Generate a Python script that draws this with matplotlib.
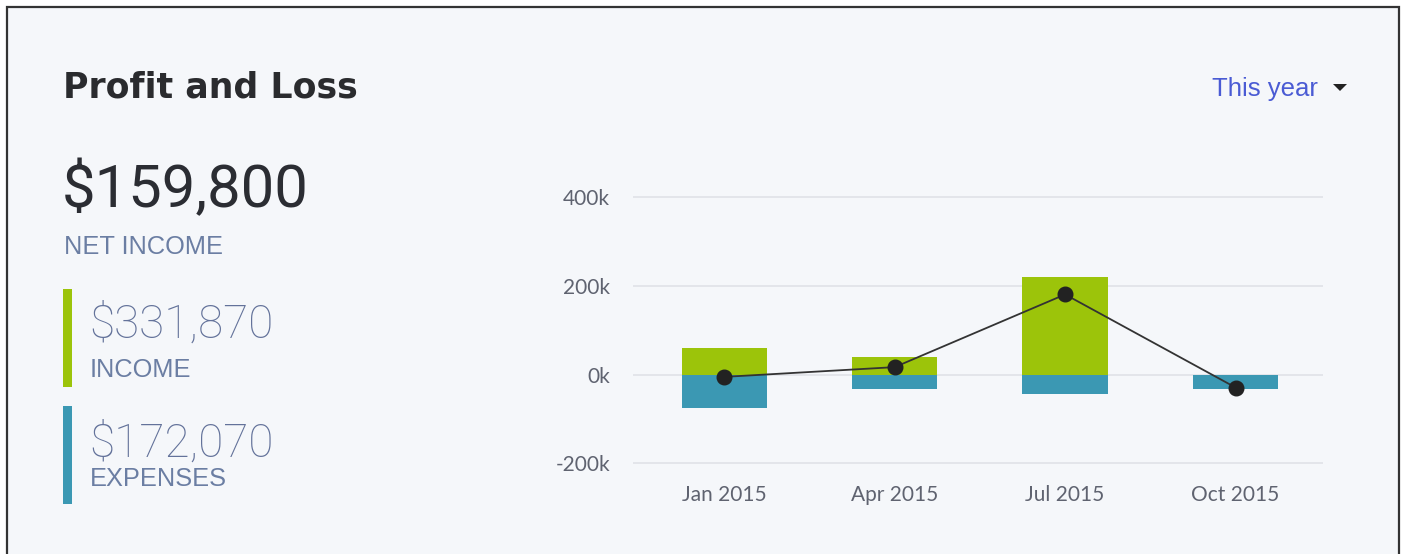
import matplotlib
matplotlib.use("Agg")
import matplotlib.pyplot as plt
from matplotlib import font_manager
from matplotlib.patches import Rectangle, Polygon

# ---- data ----
quarters = ["Jan 2015", "Apr 2015", "Jul 2015", "Oct 2015"]
income = [60, 40, 221, 0]          # thousands
expenses = [-75, -32, -44, -32]    # thousands
net = [-5, 17, 181, -29]           # thousands
yticks = [-200, 0, 200, 400]
ytick_labels = ["-200k", "0k", "200k", "400k"]
title = "Profit and Loss"
net_total = "$159,800"
income_total = "$331,870"
expense_total = "$172,070"
period = "This year"

names = {f.name for f in font_manager.fontManager.ttflist}
tickfont = "Lato" if "Lato" in names else "DejaVu Sans"

W, H = 1403, 554
fig = plt.figure(figsize=(W / 100, H / 100), dpi=100, facecolor="white")

def fx(px):
    return px / W

def fy(py):
    return 1 - py / H

# card
fig.patches.append(Rectangle((fx(7), fy(600)), fx(1399) - fx(7), fy(7) - fy(600),
                             transform=fig.transFigure, facecolor="#f5f7fa",
                             edgecolor="#333333", lw=1.6, zorder=-5))

GREEN = "#9cc40a"
BLUE = "#3b98b3"

# left panel texts
fig.text(fx(63), fy(97), title, fontsize=25, fontweight="bold", family="DejaVu Sans",
         color="#2a2b2e", va="baseline", ha="left")
fig.text(fx(62), fy(207), net_total, fontsize=43, family="Roboto",
         color="#2b2d33", va="baseline", ha="left")
fig.text(fx(64), fy(254), "NET INCOME", fontsize=18.3, family="Liberation Sans",
         color="#6b7ea3", va="baseline", ha="left")

fig.patches.append(Rectangle((fx(63), fy(387)), fx(72) - fx(63), fy(289) - fy(387),
                             transform=fig.transFigure, facecolor=GREEN, lw=0))
fig.patches.append(Rectangle((fx(63), fy(504)), fx(72) - fx(63), fy(406) - fy(504),
                             transform=fig.transFigure, facecolor=BLUE, lw=0))

kw_light = dict(family="Roboto", fontweight="light", fontsize=33,
                color="#63729a", va="baseline", ha="left")
fig.text(fx(89), fy(338), income_total, **kw_light)
fig.text(fx(90), fy(377), "INCOME", fontsize=18.3, family="Liberation Sans",
         color="#6b7ea3", va="baseline", ha="left")
fig.text(fx(89), fy(457), expense_total, **kw_light)
fig.text(fx(90), fy(486), "EXPENSES", fontsize=18.3, family="Liberation Sans",
         color="#6b7ea3", va="baseline", ha="left")

# period selector
fig.text(fx(1212), fy(96), period, fontsize=18.5, family="Liberation Sans",
         color="#4a5bd4", va="baseline", ha="left")
fig.patches.append(Polygon([(fx(1333), fy(84)), (fx(1347), fy(84)), (fx(1340), fy(91))],
                           closed=True, transform=fig.transFigure,
                           facecolor="#222222", lw=0))

# chart
ax = fig.add_axes([fx(633), fy(476.6), fx(1322.5) - fx(633), fy(184.1) - fy(476.6)])
ax.set_facecolor("none")
x = list(range(len(quarters)))
ax.bar(x, income, width=0.5, color=GREEN, zorder=2)
ax.bar(x, expenses, width=0.5, color=BLUE, zorder=2)
ax.plot(x, net, color="#333333", lw=1.3, marker="o", ms=10.5,
        mfc="#222222", mec="#222222", zorder=3)

ax.set_xlim(-0.535, 3.51)
ax.set_ylim(-230, 430)
ax.set_yticks(yticks)
ax.set_yticklabels(ytick_labels)
ax.set_xticks(x)
ax.set_xticklabels(quarters)
ax.grid(axis="y", color="#e2e4e9", lw=1.3, zorder=0)
ax.set_axisbelow(True)
for s in ax.spines.values():
    s.set_visible(False)
ax.tick_params(axis="both", length=0, labelsize=15, labelcolor="#5f6370")
ax.tick_params(axis="y", pad=16.5)
ax.tick_params(axis="x", pad=6)
for lab in ax.get_xticklabels() + ax.get_yticklabels():
    lab.set_family(tickfont)

fig.savefig("out.png", dpi=100, facecolor="white")
